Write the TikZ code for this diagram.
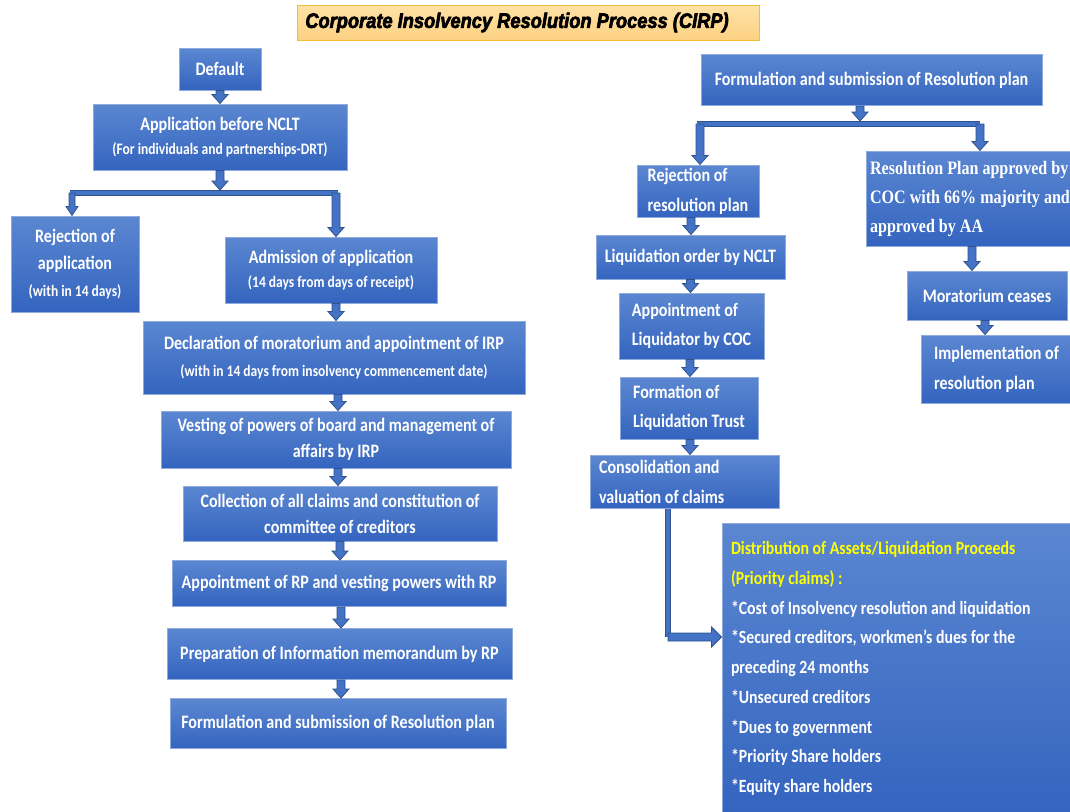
\documentclass[tikz,border=0pt]{standalone}
\usepackage{fontspec}
\setmainfont{Carlito}[FakeStretch=0.845]
\newfontfamily\serfont{Liberation Serif}[FakeStretch=0.845]
\newfontfamily\titfont{Liberation Sans}[FakeStretch=0.87,BoldItalicFeatures={FakeBold=3}]
\usetikzlibrary{calc}
\definecolor{boxtop}{HTML}{5B87D1}
\definecolor{boxbot}{HTML}{3464BF}
\definecolor{boxline}{HTML}{8FAADC}
\definecolor{arrfill}{HTML}{4472C4}
\definecolor{arrline}{HTML}{2F528F}
\definecolor{titletop}{HTML}{FFE2A6}
\definecolor{titlebot}{HTML}{FCD183}
\definecolor{titleline}{HTML}{F2BE34}
\definecolor{yel}{HTML}{FFFF00}
\newcommand\sm{\fontsize{16}{24}\selectfont}
\newcommand\dnarrow[3][4]{\draw[arr] let \p1=#2, \p2=#3 in
  (\x1-#1pt,\y1) -- (\x1+#1pt,\y1) -- (\x1+#1pt,\y2+9pt) -- (\x1+2*#1pt,\y2+9pt)
  -- (\x1,\y2) -- (\x1-2*#1pt,\y2+9pt) -- (\x1-#1pt,\y2+9pt) -- cycle;}
\newcommand\rtarrow[2]{\draw[arr] let \p1=#1, \p2=#2 in
  (\x1,\y1-4pt) -- (\x1,\y1+4pt) -- (\x2-10pt,\y1+4pt) -- (\x2-10pt,\y1+10pt)
  -- (\x2,\y1) -- (\x2-10pt,\y1-10pt) -- (\x2-10pt,\y1-4pt) -- cycle;}
\tikzset{
  box/.style={draw=boxline, line width=1pt, top color=boxtop, bottom color=boxbot,
    text=white, font=\bfseries\fontsize{19}{24}\selectfont, inner sep=0pt, align=center},
  lbox/.style={box, align=flush left},
  arr/.style={fill=arrfill, draw=arrline, line width=0.8pt, line join=miter},
  bar/.style={draw=arrline, double=arrfill, double distance=4pt, line width=0.8pt},
  titlebox/.style={draw=titleline, line width=1pt, top color=titletop, bottom color=titlebot,
    inner sep=0pt, font=\titfont\bfseries\itshape\fontsize{21}{24}\selectfont},
}
\begin{document}
\begin{tikzpicture}[x=1pt,y=-1pt]
\fill[white] (0,0) rectangle (1070,811);
\useasboundingbox (0,0) rectangle (1070,811);

\node[titlebox, minimum width=462, minimum height=35] (title) at (528,22.5)
  {Corporate Insolvency Resolution Process (CIRP)\hspace*{22pt}};

% left column
\node[box, minimum width=82, minimum height=42] (def) at (220,69) {Default};
\node[box, minimum width=254, minimum height=66] (app) at (220,137)
  {Application before NCLT\\{\sm (For individuals and partnerships-DRT)}};
\node[box, minimum width=128, minimum height=96, font=\bfseries\fontsize{19}{27}\selectfont] (rej) at (75,264)
  {Rejection of\\application\\{\sm (with in 14 days)}};
\node[box, minimum width=212, minimum height=66] (adm) at (331,270)
  {Admission of application\\{\sm (14 days from days of receipt)}};
\node[box, minimum width=382, minimum height=73, font=\bfseries\fontsize{19}{27}\selectfont] (decl) at (334,357.5)
  {Declaration of moratorium and appointment of IRP\\{\sm (with in 14 days from insolvency commencement date)}};
\node[box, minimum width=350, minimum height=57, font=\bfseries\fontsize{19}{26}\selectfont] (vest) at (336,439.5)
  {Vesting of powers of board and management of\\affairs by IRP};
\node[box, minimum width=314, minimum height=55, font=\bfseries\fontsize{19}{26}\selectfont] (coll) at (340,513.5)
  {Collection of all claims and constitution of\\committee of creditors};
\node[box, minimum width=334, minimum height=46] (apprp) at (339,583.5)
  {Appointment of RP and vesting powers with RP};
\node[box, minimum width=345, minimum height=51] (prep) at (339.5,654)
  {Preparation of Information memorandum by RP};
\node[box, minimum width=336, minimum height=50] (form) at (338,723.5)
  {Formulation and submission of Resolution plan};

% right column
\node[box, minimum width=341, minimum height=51] (rform) at (871.5,80)
  {Formulation and submission of Resolution plan};
\node[lbox, minimum width=122, minimum height=52, font=\bfseries\fontsize{19}{30}\selectfont] (rrej) at (698,191)
  {Rejection of\\resolution plan};
\node[box, minimum width=189, minimum height=44] (liq) at (690.5,257)
  {Liquidation order by NCLT};
\node[lbox, minimum width=145, minimum height=66, font=\bfseries\fontsize{19}{29}\selectfont] (aliq) at (691.5,326)
  {Appointment of\\Liquidator by COC};
\node[lbox, minimum width=138, minimum height=62, font=\bfseries\fontsize{19}{29}\selectfont] (trust) at (689,408)
  {Formation of\\Liquidation Trust};
\node[lbox, minimum width=189, minimum height=53, text width=171, font=\bfseries\fontsize{19}{30}\selectfont] (cons) at (684.5,481.5)
  {Consolidation and\\valuation of claims};
\node[lbox, minimum width=208, minimum height=95, font=\serfont\bfseries\fontsize{19}{29}\selectfont] (appr) at (970,198.5)
  {Resolution Plan approved by\\COC with 66\% majority and\\approved by AA};
\node[box, minimum width=160, minimum height=49] (mor) at (987,295.5)
  {Moratorium ceases};
\node[lbox, minimum width=151, minimum height=68, font=\bfseries\fontsize{19}{30}\selectfont] (impl) at (996.5,369)
  {Implementation of\\resolution plan};
\node[lbox, minimum width=350, minimum height=291, text width=332, font=\bfseries\fontsize{18.7}{29.7}\selectfont] (dist) at (897,668.5)
  {{\color{yel}Distribution of Assets/Liquidation Proceeds}\\
   {\color{yel}(Priority claims) :}\\
   {}*Cost of Insolvency resolution and liquidation\\
   {}*Secured creditors, workmen’s dues for the\\
   preceding 24 months\\
   {}*Unsecured creditors\\
   {}*Dues to government\\
   {}*Priority Share holders\\
   {}*Equity share holders};

% connectors, left
\coordinate (b1l) at (70,193);
\coordinate (b1r) at (338,193);
\coordinate (b1m) at (220,190);
\coordinate (b1a) at (72,193);
\coordinate (b1b) at (336,193);
\dnarrow{(def.south)}{(app.north)}
\draw[bar] (b1l) -- (b1r);
\dnarrow{(app.south)}{(b1m)}
\dnarrow[3]{(b1a)}{(rej.north)}
\dnarrow{(b1b)}{(adm.north)}
\dnarrow{([xshift=5pt]adm.south)}{(decl.north)}
\dnarrow{([xshift=4pt]decl.south)}{(vest.north)}
\dnarrow{([xshift=2pt]vest.south)}{(coll.north)}
\dnarrow{(coll.south)}{(apprp.north)}
\dnarrow{([xshift=2pt]apprp.south)}{(prep.north)}
\dnarrow{([xshift=1.5pt]prep.south)}{(form.north)}

% connectors, right
\coordinate (b2l) at (697,124);
\coordinate (b2r) at (980,124);
\coordinate (b2m) at (860,121);
\coordinate (b2a) at (700,124);
\coordinate (b2b) at (980,124);
\draw[bar] (b2l) -- (b2r);
\dnarrow{([xshift=-11.5pt]rform.south)}{(b2m)}
\dnarrow{(b2a)}{(rrej.north)}
\dnarrow{(b2b)}{(appr.north)}
\dnarrow{([xshift=-7pt]rrej.south)}{(liq.north)}
\dnarrow{(liq.south)}{(aliq.north)}
\dnarrow{([xshift=-1.5pt]aliq.south)}{(trust.north)}
\dnarrow{([xshift=1pt]trust.south)}{(cons.north)}
\dnarrow{([xshift=2pt]appr.south)}{(mor.north)}
\dnarrow{([xshift=-2pt]mor.south)}{(impl.north)}
\coordinate (corner) at (668,637);
\draw[bar] (cons.south -| corner) -- (corner);
\rtarrow{(corner)}{(dist.west |- corner)}
\end{tikzpicture}
\end{document}
